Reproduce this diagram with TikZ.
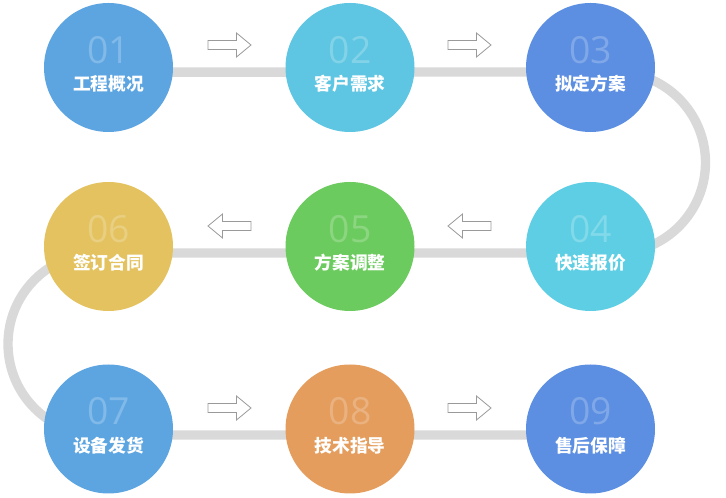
\documentclass[tikz,border=0pt]{standalone}
\usepackage{fontspec}
\newfontfamily\cjkfont{Noto Sans CJK SC}
\newfontfamily\numfont{Open Sans}
\usetikzlibrary{positioning,backgrounds}

\definecolor{stepblue}{HTML}{5DA5E1}
\definecolor{stepcyan}{HTML}{5EC6E2}
\definecolor{stepdeep}{HTML}{5C8FE2}
\definecolor{steplight}{HTML}{5DCEE3}
\definecolor{stepgreen}{HTML}{6CCB5E}
\definecolor{stepyellow}{HTML}{E3C25F}
\definecolor{steporange}{HTML}{E49D5C}
\definecolor{trackgray}{HTML}{D9D9D9}
\definecolor{arrowgray}{HTML}{9A9A9A}

\tikzset{
  stage/.style={circle, minimum size=96.75pt, inner sep=0pt},
  num/.style={font=\numfont\fontsize{28}{28}\selectfont, inner sep=0pt},
  title/.style={font=\cjkfont\bfseries\fontsize{13.3}{13.3}\selectfont, text=white, inner sep=0pt},
  track/.style={line width=7pt, draw=trackgray},
  hollowarrow/.pic={
    \draw[draw=arrowgray, fill=white, line width=0.6pt]
      (-21.5,-4.5) -- (7,-4.5) -- (7,-12) -- (21.5,0) -- (7,12) -- (7,4.5) -- (-21.5,4.5) -- cycle;
  }
}

\begin{document}
\begin{tikzpicture}[x=0.75pt, y=-0.75pt]
    \useasboundingbox (0,0) rectangle (726,498);

    % Кола етапів
    \node[stage, fill=stepblue] (c1) at (108.5,67.5) {};
    \node[stage, fill=stepcyan] (c2) at (350,67.5) {};
    \node[stage, fill=stepdeep] (c3) at (590.5,67.5) {};
    \node[stage, fill=steplight] (c4) at (590.5,246.5) {};
    \node[stage, fill=stepgreen] (c5) at (350,246.5) {};
    \node[stage, fill=stepyellow] (c6) at (108.5,246.5) {};
    \node[stage, fill=stepblue] (c7) at (108.5,429) {};
    \node[stage, fill=steporange] (c8) at (350,429) {};
    \node[stage, fill=stepdeep] (c9) at (590.5,429) {};

    % Номери
    \node[num, text=stepblue!78!white] (n1) at (108.5,50) {01};
    \node[num, text=stepcyan!78!white] (n2) at (350,50) {02};
    \node[num, text=stepdeep!78!white] (n3) at (590.5,50) {03};
    \node[num, text=steplight!78!white] (n4) at (590.5,229) {04};
    \node[num, text=stepgreen!78!white] (n5) at (350,229) {05};
    \node[num, text=stepyellow!78!white] (n6) at (108.5,229) {06};
    \node[num, text=stepblue!78!white] (n7) at (108.5,411.5) {07};
    \node[num, text=steporange!78!white] (n8) at (350,411.5) {08};
    \node[num, text=stepdeep!78!white] (n9) at (590.5,411.5) {09};

    % Назви
    \node[title] (t1) at (108.5,84) {工程概况};
    \node[title] (t2) at (350,84) {客户需求};
    \node[title] (t3) at (590.5,84) {拟定方案};
    \node[title] (t4) at (590.5,263) {快速报价};
    \node[title] (t5) at (350,263) {方案调整};
    \node[title] (t6) at (108.5,263) {签订合同};
    \node[title] (t7) at (108.5,445.5) {设备发货};
    \node[title] (t8) at (350,445.5) {技术指导};
    \node[title] (t9) at (590.5,445.5) {售后保障};

    % Стрілки
    \pic at (229.5,45) {hollowarrow};
    \pic at (469.5,45) {hollowarrow};
    \pic[rotate=180] at (469.5,226) {hollowarrow};
    \pic[rotate=180] at (229.5,226) {hollowarrow};
    \pic at (229.5,408) {hollowarrow};
    \pic at (469.5,408) {hollowarrow};

    % Доріжка
    \begin{scope}[on background layer]
      \draw[track] ([yshift=-3.5pt]c1.center) -- (615,72) arc (-90:90:90.5)
        -- (99,253) arc (270:90:91) -- ([yshift=-4.5pt]c9.center);
    \end{scope}
\end{tikzpicture}
\end{document}
